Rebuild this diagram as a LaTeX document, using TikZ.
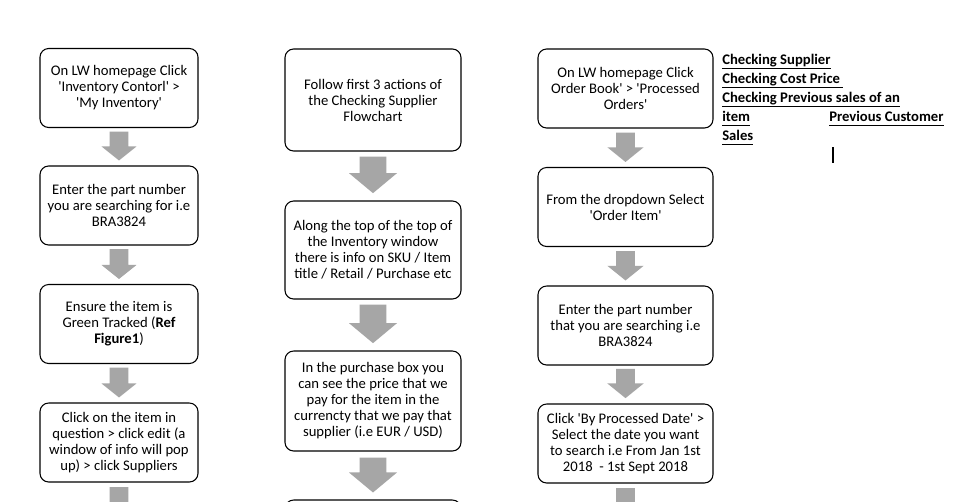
\documentclass[tikz,border=0pt]{standalone}
\usepackage{fontspec}
\setmainfont{Carlito}[Ligatures=TeXOff]
\usetikzlibrary{calc}
\definecolor{arrowgray}{HTML}{A6A6A6}
\newcommand\blockarrow[7]{%
  \fill[arrowgray] let \p1=(#1.south), \p2=(#2) in
    (\x1-#3,\y1-#6) -- (\x1+#3,\y1-#6) -- (\x1+#3,\y2+#7+#5) -- (\x1+#4,\y2+#7+#5)
    -- (\x1,\y2+#7) -- (\x1-#4,\y2+#7+#5) -- (\x1-#3,\y2+#7+#5) -- cycle;}
\newcommand\ulbold[1]{\underline{#1\vphantom{gp}}}
\tikzset{
  flowbox/.style={draw=black, line width=0.8pt, rounded corners=6.5pt, align=center,
    inner sep=0pt, font=\fontsize{11}{12}\selectfont},
  boxA/.style={flowbox, minimum width=118.5pt, minimum height=59.25pt},
  boxB/.style={flowbox, minimum width=132pt},
  boxC/.style={flowbox, minimum width=131.25pt, minimum height=59.25pt},
  linktext/.style={anchor=base west, inner sep=0pt, font=\fontsize{11}{12}\selectfont\bfseries},
}
\begin{document}
\begin{tikzpicture}[x=0.75pt,y=-0.75pt]
\useasboundingbox (0,0) rectangle (974,501);
\fill[white] (0,0) rectangle (974,501);
\begin{scope}
\clip (0,0) rectangle (974,501);
% column 1
\node[boxA] (a1) at (119,88) {On LW homepage Click\\'Inventory Contorl' >\\'My Inventory'};
\node[boxA] (a2) at (119,205.5) {Enter the part number\\you are searching for i.e\\BRA3824};
\node[boxA] (a3) at (119,324) {Ensure the item is\\Green Tracked (\textbf{Ref}\\\textbf{Figure1})};
\node[boxA] (a4) at (119,442.5) {Click on the item in\\question > click edit (a\\window of info will pop\\up) > click Suppliers};
\coordinate (a5) at (119,530);
\blockarrow{a1}{a2.north}{7.1pt}{13.1pt}{10.5pt}{2.6pt}{3.75pt}
\blockarrow{a2}{a3.north}{7.1pt}{13.1pt}{10.5pt}{2.6pt}{3.75pt}
\blockarrow{a3}{a4.north}{7.1pt}{13.1pt}{10.5pt}{2.6pt}{3.75pt}
\blockarrow{a4}{a5}{7.1pt}{13.1pt}{10.5pt}{3.5pt}{3.75pt}
% column 2
\node[boxB, minimum height=76.5pt] (b1) at (373,100) {Follow first 3 actions of\\the Checking Supplier\\Flowchart};
\node[boxB, minimum height=73.5pt] (b2) at (373,250) {Along the top of the top of\\the Inventory window\\there is info on SKU / Item\\title / Retail / Purchase etc};
\node[boxB, minimum height=75pt] (b3) at (373,401) {In the purchase box you\\can see the price that we\\pay for the item in the\\currencty that we pay that\\supplier (i.e EUR / USD)};
\node[boxB, minimum height=75pt] (b4) at (373,550) {};
\blockarrow{b1}{b2.north}{10pt}{18pt}{15pt}{3.75pt}{5.5pt}
\blockarrow{b2}{b3.north}{10pt}{18pt}{15pt}{3.75pt}{5.5pt}
\blockarrow{b3}{b4.north}{10pt}{18pt}{15pt}{4.5pt}{5.25pt}
% column 3
\node[boxC] (c1) at (625.5,88.5) {On LW homepage Click\\Order Book' > 'Processed\\Orders'};
\node[boxC] (c2) at (625.5,207) {From the dropdown Select\\'Order Item'};
\node[boxC] (c3) at (625.5,325.5) {Enter the part number\\that you are searching i.e\\BRA3824};
\node[boxC] (c4) at (625.5,443.5) {Click 'By Processed Date' >\\Select the date you want\\to search i.e From Jan 1st\\2018\ \ - 1st Sept 2018};
\coordinate (c5) at (625.5,530);
\blockarrow{c1}{c2.north}{7.1pt}{13.6pt}{11pt}{3pt}{3.75pt}
\blockarrow{c2}{c3.north}{7.1pt}{13.6pt}{11pt}{3pt}{3.75pt}
\blockarrow{c3}{c4.north}{7.1pt}{13.6pt}{11pt}{2.5pt}{4pt}
\blockarrow{c4}{c5}{7.1pt}{13.6pt}{11pt}{3.5pt}{3.75pt}
% links text
\node[linktext] (t1) at (722,64) {\ulbold{Checking Supplier}};
\node[linktext] (t2) at (722,83) {\ulbold{Checking Cost Price\ }};
\node[linktext] (t3) at (722,102) {\ulbold{Checking Previous sales of an}};
\node[linktext] (t4) at (722,121) {\ulbold{item}};
\node[linktext] (t5) at (829,121) {\ulbold{Previous Customer}};
\node[linktext] (t6) at (722,140) {\ulbold{Sales}};
\draw[line width=0.8pt] (833,147) -- (833,163);
\end{scope}
\end{tikzpicture}
\end{document}
